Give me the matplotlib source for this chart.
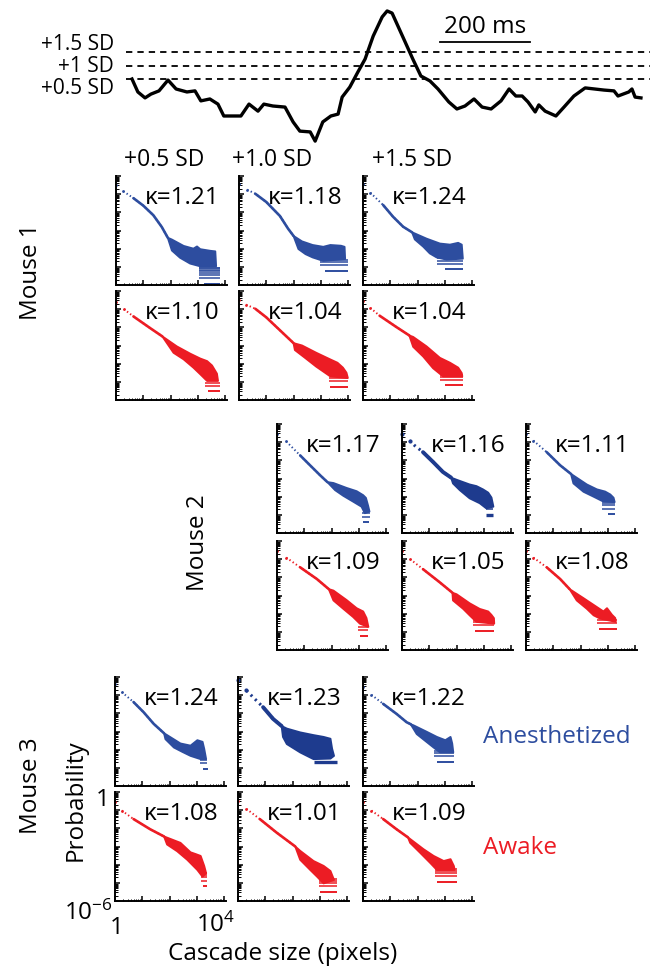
import numpy as np
import matplotlib
matplotlib.use('Agg')
import matplotlib.pyplot as plt
from matplotlib.ticker import LogLocator, NullFormatter

plt.rcParams['font.family'] = ['Open Sans', 'DejaVu Sans']
plt.rcParams['mathtext.fontset'] = 'custom'
plt.rcParams['mathtext.rm'] = 'Open Sans'
plt.rcParams['mathtext.it'] = 'Open Sans:italic'
plt.rcParams['mathtext.bf'] = 'Open Sans:bold'

# ---------------- data ----------------
# top trace (time in ms, signal in SD units)
TRACE_T_MS = [0, 13, 29, 42, 60, 80, 98, 122, 140, 153, 173, 191, 204, 224, 242, 260, 280, 293,
              313, 340, 358, 373, 396, 407, 424, 442, 458, 467, 484, 502, 518, 536, 556, 567,
              578, 591, 607, 624, 642, 662, 680, 704, 722, 740, 760, 778, 798, 820, 838, 853,
              867, 880, 896, 904, 918, 942, 960, 982, 1007, 1049, 1071, 1080, 1104, 1111, 1118, 1131]
TRACE_SD = [0.50, 0.02, -0.20, -0.06, 0.06, 0.46, 0.13, 0.02, 0.06, -0.31, -0.24, -0.43, -0.87,
            -0.87, -0.87, -0.43, -0.69, -0.43, -0.50, -0.54, -1.09, -1.43, -1.46, -1.80, -1.09,
            -0.87, -0.80, -0.17, 0.20, 0.76, 1.24, 2.09, 2.80, 3.02, 2.94, 2.46, 1.87, 1.24, 0.61,
            0.43, 0.13, -0.35, -0.61, -0.50, -0.24, -0.54, -0.61, -0.31, 0.13, -0.13, -0.13, -0.35,
            -0.72, -0.46, -0.69, -0.87, -0.54, -0.13, 0.17, 0.09, 0.06, -0.13, 0.02, 0.13, -0.17, -0.20]
THRESH_SD = [1.5, 1.0, 0.5]
THRESH_LABELS = ['+1.5 SD', '+1 SD', '+0.5 SD']
SCALE_MS = 200

COL_LABELS = ['+0.5 SD', '+1.0 SD', '+1.5 SD']
MICE = ['Mouse 1', 'Mouse 2', 'Mouse 3']
STATES = ['Anesthetized', 'Awake']
KAPPA = [[[1.21, 1.18, 1.24], [1.10, 1.04, 1.04]],
         [[1.17, 1.16, 1.11], [1.09, 1.05, 1.08]],
         [[1.24, 1.23, 1.22], [1.08, 1.01, 1.09]]]

# cascade-size distributions as (log10 size, log10 probability)
# TREND: sparse dotted part; UPPER/LOWER: envelope of the dense tail cloud
TREND = [
 [[[(0, -0.47), (0.27, -0.84), (0.64, -1.22), (1.0, -1.63), (1.37, -2.16), (1.68, -2.81), (1.9, -3.4)],
   [(0, -0.44), (0.3, -0.75), (0.6, -0.98), (1.0, -1.43), (1.5, -2.2), (1.8, -2.9), (2.0, -3.3)],
   [(0, -0.44), (0.27, -0.92), (0.74, -1.6), (1.1, -2.24), (1.47, -2.79), (1.8, -3.1)]],
  [[(0, -0.6), (0.29, -1.0), (0.64, -1.4), (1.25, -2.04), (1.7, -2.5)],
   [(0, -0.5), (0.26, -0.75), (0.6, -0.98), (1.0, -1.45), (1.5, -2.16), (2.0, -2.87)],
   [(0, -0.54), (0.27, -0.93), (0.61, -1.36), (1.23, -1.99), (1.7, -2.45)]]],
 [[[(0, -0.55), (0.34, -0.96), (0.85, -1.73), (1.21, -2.27), (1.58, -2.82), (1.85, -3.2)],
   [(0, -0.55), (0.28, -0.91), (0.46, -1.18), (0.77, -1.55), (1.14, -2.09), (1.5, -2.64), (1.8, -2.95)],
   [(0, -0.55), (0.27, -0.91), (0.76, -1.55), (1.25, -2.27), (1.65, -2.75)]],
  [[(0, -0.55), (0.34, -0.91), (0.85, -1.45), (1.46, -2.09), (1.9, -2.65)],
   [(0, -0.55), (0.3, -1.0), (0.77, -1.55), (1.38, -2.27), (1.85, -2.85)],
   [(0, -0.55), (0.27, -0.91), (0.76, -1.45), (1.25, -2.09), (1.6, -2.65)]]],
 [[[(0, -0.37), (0.25, -0.83), (0.68, -1.38), (1.05, -1.94), (1.42, -2.58), (1.8, -3.1)],
   [(0, -0.18), (0.31, -0.74), (0.55, -1.11), (0.92, -1.66), (1.29, -2.31), (1.6, -2.7)],
   [(0, -0.55), (0.31, -0.98), (0.74, -1.48), (1.23, -2.03), (1.6, -2.49), (1.75, -2.6)]],
  [[(0, -0.56), (0.25, -1.02), (0.68, -1.49), (1.29, -2.05), (1.8, -2.45)],
   [(0, -0.47), (0.31, -0.93), (0.8, -1.49), (1.42, -2.24), (2.1, -3.0)],
   [(0, -0.56), (0.31, -1.02), (0.74, -1.49), (1.23, -2.05), (1.65, -2.5)]]],
]
UPPER = [
 [[[(1.9, -3.4), (2.05, -3.5), (2.48, -3.85), (2.84, -4.0), (2.97, -3.88), (3.09, -4.03), (3.46, -4.12), (3.64, -4.15), (3.67, -4.97)],
   [(2.0, -3.3), (2.31, -3.6), (2.7, -3.8), (3.09, -3.9), (3.35, -3.8), (3.74, -3.84), (3.87, -3.9), (3.89, -4.57)],
   [(1.8, -3.1), (2.33, -3.45), (2.82, -3.72), (3.19, -3.78), (3.49, -3.68), (3.62, -3.78), (3.66, -4.55)]],
  [[(1.7, -2.5), (2.23, -3.05), (2.72, -3.45), (3.09, -3.72), (3.34, -3.86), (3.52, -4.1), (3.7, -4.55), (3.74, -4.95)],
   [(2.0, -2.87), (2.31, -3.0), (2.83, -3.4), (3.35, -3.77), (3.61, -3.95), (3.81, -4.22), (3.94, -4.5), (3.99, -4.79)],
   [(1.7, -2.45), (1.84, -2.53), (2.33, -3.05), (2.82, -3.68), (3.19, -3.95), (3.49, -4.22), (3.62, -4.52), (3.64, -4.7)]]],
 [[[(1.85, -3.2), (2.07, -3.25), (2.55, -3.52), (2.92, -3.7), (3.16, -3.92), (3.26, -4.07), (3.34, -4.5), (3.39, -4.82)],
   [(1.8, -2.95), (2.0, -3.07), (2.48, -3.33), (2.73, -3.42), (2.97, -3.6), (3.16, -3.78), (3.28, -4.05), (3.35, -4.55)],
   [(1.65, -2.75), (2.23, -3.33), (2.6, -3.6), (2.9, -3.72), (3.09, -3.88), (3.21, -4.06), (3.25, -4.3)]],
  [[(1.9, -2.65), (2.07, -2.73), (2.55, -3.25), (2.92, -3.7), (3.16, -3.88), (3.28, -4.24), (3.35, -4.73)],
   [(1.85, -2.85), (2.0, -2.93), (2.48, -3.43), (2.85, -3.74), (3.16, -3.88), (3.28, -4.07), (3.37, -4.25), (3.38, -4.55)],
   [(1.6, -2.65), (2.11, -3.15), (2.48, -3.52), (2.84, -3.88), (2.97, -3.7), (3.15, -4.06), (3.27, -4.24), (3.29, -4.45)]]],
 [[[(1.8, -3.1), (1.91, -3.2), (2.4, -3.66), (2.77, -3.78), (3.02, -3.48), (3.21, -3.57), (3.27, -3.95), (3.34, -4.52)],
   [(1.6, -2.7), (1.79, -2.84), (2.28, -3.05), (2.77, -3.2), (3.14, -3.3), (3.39, -3.4), (3.45, -3.95), (3.52, -4.34)],
   [(1.75, -2.6), (1.85, -2.66), (2.34, -3.02), (2.71, -3.3), (3.02, -3.48), (3.21, -3.3), (3.27, -3.66), (3.31, -4.15)]],
  [[(1.8, -2.45), (2.4, -2.8), (2.77, -3.32), (2.96, -3.42), (3.14, -3.52), (3.27, -4.07), (3.34, -4.47)],
   [(2.1, -3.0), (2.28, -3.24), (2.77, -3.8), (3.14, -4.07), (3.39, -4.35), (3.52, -4.84)],
   [(1.65, -2.5), (2.22, -3.15), (2.59, -3.52), (2.96, -3.8), (3.21, -3.7), (3.33, -4.07), (3.36, -4.29)]]],
]
LOWER = [
 [[[(1.9, -3.4), (2.05, -4.1), (2.35, -4.5), (2.72, -4.82), (3.09, -4.97), (3.67, -4.97)],
   [(2.0, -3.3), (2.18, -4.02), (2.44, -4.3), (2.7, -4.48), (3.09, -4.67), (3.89, -4.57)],
   [(1.8, -3.1), (1.9, -3.49), (2.21, -3.89), (2.45, -4.26), (2.7, -4.48), (3.06, -4.6), (3.66, -4.55)]],
  [[(1.7, -2.5), (2.11, -3.4), (2.48, -3.76), (2.84, -4.22), (3.09, -4.58), (3.34, -4.95), (3.74, -4.95)],
   [(2.0, -2.87), (2.05, -3.25), (2.44, -3.7), (2.83, -4.16), (3.09, -4.43), (3.35, -4.7), (3.99, -4.79)],
   [(1.7, -2.45), (1.84, -3.07), (2.21, -3.61), (2.57, -4.25), (2.94, -4.7), (3.64, -4.7)]]],
 [[[(1.85, -3.2), (2.13, -3.64), (2.43, -3.95), (2.79, -4.27), (3.1, -4.55), (3.22, -4.91), (3.39, -4.82)],
   [(1.8, -2.95), (1.87, -3.27), (2.12, -3.64), (2.48, -4.09), (2.85, -4.36), (3.09, -4.64), (3.35, -4.55)],
   [(1.65, -2.75), (1.74, -3.27), (2.11, -3.73), (2.48, -4.0), (2.84, -4.27), (3.25, -4.3)]],
  [[(1.9, -2.65), (2.07, -3.27), (2.43, -3.73), (2.79, -4.18), (3.04, -4.55), (3.35, -4.73)],
   [(1.85, -2.85), (1.87, -3.27), (2.24, -3.73), (2.48, -4.09), (2.73, -4.45), (3.38, -4.55)],
   [(1.6, -2.65), (1.86, -3.27), (2.23, -3.73), (2.48, -4.09), (2.72, -4.27), (3.29, -4.45)]]],
 [[[(1.8, -3.1), (1.85, -3.42), (2.16, -3.88), (2.47, -4.12), (2.77, -4.34), (3.14, -4.52), (3.34, -4.52)],
   [(1.6, -2.7), (1.65, -3.3), (1.79, -3.69), (2.28, -4.15), (2.77, -4.52), (3.39, -4.49), (3.52, -4.34)],
   [(1.75, -2.6), (1.97, -3.14), (2.28, -3.51), (2.59, -3.88), (2.83, -4.15), (3.31, -4.15)]],
  [[(1.8, -2.45), (1.91, -2.89), (2.28, -3.26), (2.65, -3.73), (3.02, -4.29), (3.21, -4.66), (3.34, -4.47)],
   [(2.1, -3.0), (2.28, -3.73), (2.65, -4.29), (2.9, -4.66), (3.14, -5.03), (3.52, -4.84)],
   [(1.65, -2.5), (1.73, -2.8), (2.1, -3.35), (2.47, -3.91), (2.71, -4.29), (3.36, -4.29)]]],
]
# discrete-count rows at the bottom of each tail: (highest row, x start, x end)
STREAK = [
 [[(-5.03, 3.03, 3.83), (-4.6, 2.96, 4.0), (-4.5, 2.7, 3.68)],
  [(-4.95, 3.27, 3.82), (-4.72, 3.29, 4.0), (-4.6, 2.82, 3.68)]],
 [[(-4.85, 3.1, 3.41), (-4.65, 3.09, 3.34), (-4.2, 2.78, 3.27)],
  [(-4.65, 2.98, 3.34), (-4.3, 2.6, 3.39), (-4.27, 2.6, 3.34)]],
 [[(-4.5, 3.1, 3.39), (-4.5, 2.77, 3.4), (-4.06, 2.59, 3.33)],
  [(-4.47, 3.14, 3.39), (-4.75, 2.96, 3.64), (-4.19, 2.65, 3.45)]],
]
# lowest (single-count) row: (level, x start, x end)
FLOOR = [
 [[(-5.94, 3.21, 3.83), (-5.22, 3.15, 4.0), (-5.14, 3.0, 3.68)],
  [(-5.53, 3.36, 3.82), (-5.28, 3.35, 4.0), (-5.2, 3.0, 3.68)]],
 [[(-5.4, 3.16, 3.38), (-5.0, 3.09, 3.34), (-4.96, 3.0, 3.27)],
  [(-5.22, 3.04, 3.34), (-4.95, 2.68, 3.39), (-4.82, 2.68, 3.34)]],
 [[(-5.04, 3.21, 3.42), (-4.67, 2.77, 3.64), (-4.67, 2.71, 3.33)],
  [(-5.18, 3.21, 3.39), (-5.5, 3.02, 3.64), (-4.94, 2.71, 3.45)]],
]
# spacing of the count rows above the lowest row (log10 units)
STREAK_STEPS = [0.30, 0.48, 0.60, 0.70, 0.78, 0.85, 0.90, 0.95, 1.00, 1.04, 1.08]
HEAVY = [[[False, False, False], [False, False, False]],
         [[False, True, False], [False, False, False]],
         [[False, True, False], [False, False, False]]]

BLUE = '#2d4d9f'
DARK_BLUE = '#1e3b8e'
RED = '#ec1c24'

# ---------------- layout (pixels) ----------------
W, H = 654, 970
PW, PH = 111, 109
COL_X = [[116, 239, 363], [277, 402, 526], [115, 238, 363]]
ROW_Y = [[177, 292], [425, 542], [678, 793]]
BIG = 17.5

fig = plt.figure(figsize=(W / 100, H / 100), dpi=100)


def fx(x):
    return x / W


def fy(y):
    return 1 - y / H


def add_ax(x0, y0, w, h):
    return fig.add_axes([x0 / W, 1 - (y0 + h) / H, w / W, h / H])


# ---------------- top trace ----------------
axt = add_ax(126, 0, 524, 150)
px_per_ms = 90 / SCALE_MS
axt.set_xlim((126 - 132) / px_per_ms, (650 - 132) / px_per_ms)
axt.set_ylim((93.5 - 150) / 27, (93.5 - 0) / 27)
axt.axis('off')
for lev in THRESH_SD:
    axt.axhline(lev, color='black', lw=1.3, ls=(0, (3.5, 2.8)))
axt.plot(TRACE_T_MS, TRACE_SD, color='black', lw=2.4, solid_joinstyle='round')
bar_t0 = 684
axt.plot([bar_t0, bar_t0 + SCALE_MS], [1.87, 1.87], color='black', lw=1.3)
axt.text(bar_t0 + SCALE_MS / 2, 2.02, f'{SCALE_MS} ms', ha='center', va='bottom', fontsize=BIG)
for lab, ypx in zip(THRESH_LABELS, [45, 66, 88]):
    fig.text(fx(114), fy(ypx), lab, ha='right', va='center', fontsize=15)

# ---------------- panels ----------------
for m in range(3):
    for s in range(2):
        for c in range(3):
            ax = add_ax(COL_X[m][c], ROW_Y[m][s], PW, PH)
            heavy = HEAVY[m][s][c]
            col = (DARK_BLUE if heavy else BLUE) if s == 0 else RED
            ax.set_xscale('log')
            ax.set_yscale('log')
            ax.set_xlim(1, 10 ** 4.07)
            ax.set_ylim(1e-6, 1)
            tr = np.array(TREND[m][s][c])
            tx, ty = 10 ** tr[:, 0], 10 ** tr[:, 1]
            ms = 3.0 if heavy else 2.0
            ax.plot(tx[:2], ty[:2], 'o', ms=ms, mew=0, color=col, clip_on=False)
            ax.plot(tx[1:], ty[1:], ls=(0, (0.7, 1.3)), lw=(2.2 if heavy else 1.4), color=col)
            k0 = max(int(np.argmax(tr[:, 0] >= 1.0)) - 1, 1)
            ax.plot(tx[k0:], ty[k0:], lw=(2.8 if heavy else 1.9), color=col,
                    solid_capstyle='round', solid_joinstyle='round')
            up = np.array(UPPER[m][s][c])
            lo = np.array(LOWER[m][s][c])
            verts = np.vstack([up, lo[::-1]])
            ax.fill(10 ** verts[:, 0], 10 ** verts[:, 1], color=col, lw=1.4,
                    joinstyle='round')
            top, sx0, sx1 = STREAK[m][s][c]
            fl, fx0, fx1 = FLOOR[m][s][c]
            for off in STREAK_STEPS:
                lev = fl + off
                if lev <= top + 1e-6:
                    ax.hlines(10 ** lev, 10 ** sx0, 10 ** sx1, color=col, lw=1.1)
            ax.hlines(10 ** fl, 10 ** fx0, 10 ** fx1, color=col, lw=(2.4 if heavy else 1.4))
            ax.text(0.93, 0.81, f'κ={KAPPA[m][s][c]:.2f}', transform=ax.transAxes,
                    ha='right', va='center', fontsize=BIG)
            for sp in ['top', 'right']:
                ax.spines[sp].set_visible(False)
            for sp in ['left', 'bottom']:
                ax.spines[sp].set_linewidth(1.4)
            ax.xaxis.set_major_locator(LogLocator(base=10, numticks=10))
            ax.yaxis.set_major_locator(LogLocator(base=10, numticks=10))
            ax.xaxis.set_minor_locator(LogLocator(base=10, subs=np.arange(2, 10), numticks=10))
            ax.yaxis.set_minor_locator(LogLocator(base=10, subs=np.arange(2, 10), numticks=10))
            ax.xaxis.set_minor_formatter(NullFormatter())
            ax.yaxis.set_minor_formatter(NullFormatter())
            ax.tick_params(which='both', direction='in', labelleft=False, labelbottom=False,
                           top=False, right=False)
            ax.tick_params(which='major', length=3.5, width=1.1)
            ax.tick_params(which='minor', length=1.8, width=0.7)

# ---------------- labels ----------------
for lab, xc in zip(COL_LABELS, [164, 272, 412]):
    fig.text(fx(xc), fy(160), lab, ha='center', va='center', fontsize=16.5)

for lab, (xc, yc) in zip(MICE, [(31, 272), (198, 543), (31, 786)]):
    fig.text(fx(xc), fy(yc), lab, ha='center', va='center', rotation=90, fontsize=BIG)

fig.text(fx(76), fy(800), 'Probability', ha='center', va='center', rotation=90, fontsize=BIG)
fig.text(fx(103), fy(800), '1', ha='center', va='center', fontsize=BIG)
fig.text(fx(88), fy(913), r'$\mathregular{10^{-6}}$', ha='center', va='center', fontsize=BIG)
fig.text(fx(117), fy(928), '1', ha='center', va='center', fontsize=BIG)
fig.text(fx(216), fy(925), r'$\mathregular{10^{4}}$', ha='center', va='center', fontsize=BIG)
fig.text(fx(283), fy(954), 'Cascade size (pixels)', ha='center', va='center', fontsize=BIG)

fig.text(fx(483), fy(737), STATES[0], ha='left', va='center', fontsize=BIG, color=BLUE)
fig.text(fx(483), fy(848), STATES[1], ha='left', va='center', fontsize=BIG, color=RED)

fig.savefig('out.png', dpi=100)
